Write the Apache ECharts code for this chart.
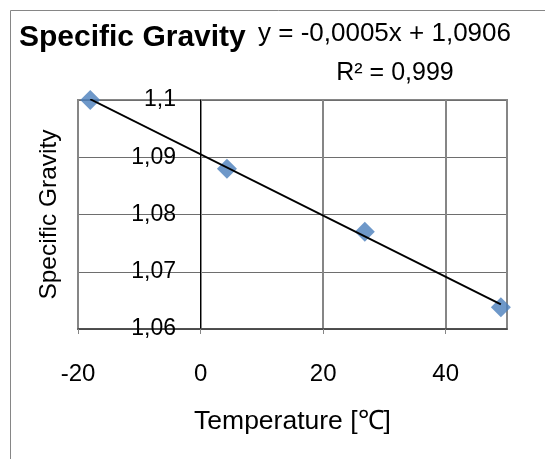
<!DOCTYPE html>
<html>
<head>
<meta charset="utf-8">
<title>Specific Gravity</title>
<script src="https://cdn.jsdelivr.net/npm/echarts@6/dist/echarts.min.js"></script>
<style>
  html, body { margin: 0; padding: 0; background: #fff; }
  #chart { width: 545px; height: 459px; }
</style>
</head>
<body>
<div id="chart"></div>
<script>
// Measured samples: temperature in °C and specific gravity
const temperature = [-18, 4.3, 26.8, 49];
const specificGravity = [1.1, 1.088, 1.077, 1.0638];

// Axis ranges
const xRange = { min: -20, max: 50, interval: 20 };
const yRange = { min: 1.06, max: 1.1, interval: 0.01 };

// Trendline annotation text
const trendEquation = 'y = -0,0005x + 1,0906';
const trendR2 = 'R\u00b2 = 0,999';

const FONT = '"Liberation Sans", Arial, Helvetica, sans-serif';

// Least-squares linear fit through the samples
function linearFit(xs, ys) {
  const n = xs.length;
  const mx = xs.reduce((a, b) => a + b, 0) / n;
  const my = ys.reduce((a, b) => a + b, 0) / n;
  let sxy = 0, sxx = 0;
  for (let i = 0; i < n; i++) {
    sxy += (xs[i] - mx) * (ys[i] - my);
    sxx += (xs[i] - mx) * (xs[i] - mx);
  }
  const slope = sxy / sxx;
  return { slope, intercept: my - slope * mx };
}

const fit = linearFit(temperature, specificGravity);
const xLo = Math.min(...temperature);
const xHi = Math.max(...temperature);
const trendData = [
  [xLo, fit.intercept + fit.slope * xLo],
  [xHi, fit.intercept + fit.slope * xHi]
];
const points = temperature.map((t, i) => [t, specificGravity[i]]);

const chart = echarts.init(document.getElementById('chart'));
chart.setOption({
  animation: false,
  backgroundColor: '#ffffff',
  textStyle: { fontFamily: FONT },
  title: {
    text: 'Specific Gravity',
    left: 19,
    top: 23,
    padding: 0,
    textStyle: { fontSize: 30, fontWeight: 'bold', color: '#000', fontFamily: FONT }
  },
  grid: {
    left: 78, top: 100, right: 38, bottom: 130,
    outerBoundsMode: 'none',
    containLabel: false,
    show: true, borderColor: '#868686', borderWidth: 2, backgroundColor: 'transparent'
  },
  xAxis: {
    type: 'value',
    min: xRange.min, max: xRange.max, interval: xRange.interval,
    name: 'Temperature [\u2103]',
    nameLocation: 'middle',
    nameGap: 79,
    nameTextStyle: { fontSize: 26.5, color: '#000', fontFamily: FONT },
    axisLine: { onZero: false, lineStyle: { color: '#404040', width: 1.5 } },
    axisTick: { show: true, length: 5, lineStyle: { color: '#868686', width: 1 } },
    axisLabel: { fontSize: 24, color: '#000', margin: 33, showMaxLabel: false, fontFamily: FONT },
    splitLine: { show: true, lineStyle: { color: '#868686', width: 2 } }
  },
  yAxis: {
    type: 'value',
    min: yRange.min, max: yRange.max, interval: yRange.interval,
    name: 'Specific Gravity',
    nameLocation: 'middle',
    nameGap: 16,
    nameRotate: 90,
    nameTextStyle: { fontSize: 24.5, color: '#000', fontFamily: FONT },
    axisLine: { show: true, onZero: true, lineStyle: { color: '#000', width: 1 } },
    axisTick: { show: false },
    axisLabel: {
      fontSize: 23, color: '#000', margin: -98, fontFamily: FONT,
      formatter: v => String(+v.toFixed(2)).replace('.', ',')
    },
    splitLine: { show: true, lineStyle: { color: '#6e6e6e', width: 1 } }
  },
  series: [
    {
      type: 'scatter',
      data: points,
      symbol: 'diamond',
      symbolSize: 20,
      itemStyle: { color: '#4a7ebb' },
      z: 2
    },
    {
      type: 'line',
      data: trendData,
      showSymbol: false,
      symbol: 'none',
      lineStyle: { color: '#000', width: 1.9 },
      z: 3
    }
  ],
  graphic: [
    {
      type: 'rect',
      silent: true,
      z: -1,
      shape: { x: 10.5, y: 10.5, width: 600, height: 500 },
      style: { fill: 'none', stroke: '#868686', lineWidth: 1 }
    },
    {
      type: 'text',
      x: 384.5, y: 34,
      style: { text: trendEquation, fontSize: 26, fontFamily: FONT, fill: '#000', align: 'center', verticalAlign: 'middle' }
    },
    {
      type: 'text',
      x: 395, y: 73,
      style: { text: trendR2, fontSize: 25, fontFamily: FONT, fill: '#000', align: 'center', verticalAlign: 'middle' }
    }
  ]
});
</script>
</body>
</html>
